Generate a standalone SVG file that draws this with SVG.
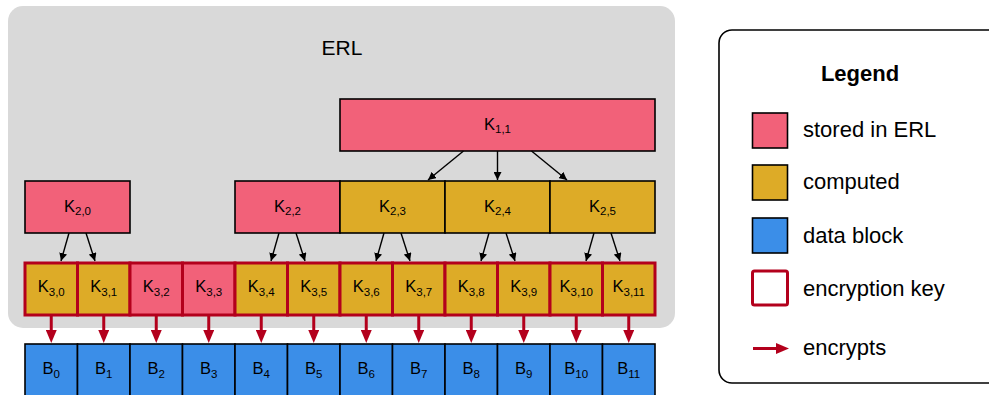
<svg xmlns="http://www.w3.org/2000/svg" width="989" height="395" viewBox="0 0 989 395">
<defs>
<style>
text{font-family:"Liberation Sans",Arial,Helvetica,sans-serif;fill:#000;}
.big{font-size:21px;}
.lbl{font-size:22px;}
.k{font-size:16.5px;text-anchor:middle;}
.sub{font-size:11.5px;}
.stored{fill:#f26179;}
.comp{fill:#ddab27;}
.data{fill:#3b8ee8;}
.box{stroke:#000;stroke-width:1.6;}
.key{stroke:#b3001c;stroke-width:3;}
.blk{stroke:#000;stroke-width:1.4;fill:none;}
.red{stroke:#b3001c;stroke-width:3;fill:none;}
</style>
<marker id="ah" viewBox="0 0 10 10" refX="10" refY="5" markerWidth="8" markerHeight="8" markerUnits="userSpaceOnUse" orient="auto"><path d="M0,0 L10,5 L0,10 z" fill="#000"/></marker>
<marker id="rh" viewBox="0 0 13 11" refX="0" refY="5.5" markerWidth="13" markerHeight="11" markerUnits="userSpaceOnUse" orient="auto"><path d="M0,0 L13,5.5 L0,11 z" fill="#b3001c"/></marker>
</defs>

<g id="erl">
<rect x="8" y="6" width="667" height="322" rx="15" fill="#d9d9d9"/>
<text class="big" x="342" y="55" text-anchor="middle">ERL</text>
</g>

<g id="K1_1"><rect class="stored box" x="340" y="99" width="315" height="52"/><text class="k" x="497.5" y="130">K<tspan class="sub" dy="3">1,1</tspan></text></g>

<g id="K2_0"><rect class="stored box" x="25" y="181" width="105" height="52"/><text class="k" x="77.5" y="212">K<tspan class="sub" dy="3">2,0</tspan></text></g>
<g id="K2_2"><rect class="stored box" x="235" y="181" width="105" height="52"/><text class="k" x="287.5" y="212">K<tspan class="sub" dy="3">2,2</tspan></text></g>
<g id="K2_3"><rect class="comp box" x="340" y="181" width="105" height="52"/><text class="k" x="392.5" y="212">K<tspan class="sub" dy="3">2,3</tspan></text></g>
<g id="K2_4"><rect class="comp box" x="445" y="181" width="105" height="52"/><text class="k" x="497.5" y="212">K<tspan class="sub" dy="3">2,4</tspan></text></g>
<g id="K2_5"><rect class="comp box" x="550" y="181" width="105" height="52"/><text class="k" x="602.5" y="212">K<tspan class="sub" dy="3">2,5</tspan></text></g>

<g id="K3_0"><rect class="comp key" x="25" y="263" width="52.5" height="52"/><text class="k" x="51.25" y="292">K<tspan class="sub" dy="4">3,0</tspan></text></g>
<g id="K3_1"><rect class="comp key" x="77.5" y="263" width="52.5" height="52"/><text class="k" x="103.75" y="292">K<tspan class="sub" dy="4">3,1</tspan></text></g>
<g id="K3_2"><rect class="stored key" x="130" y="263" width="52.5" height="52"/><text class="k" x="156.25" y="292">K<tspan class="sub" dy="4">3,2</tspan></text></g>
<g id="K3_3"><rect class="stored key" x="182.5" y="263" width="52.5" height="52"/><text class="k" x="208.75" y="292">K<tspan class="sub" dy="4">3,3</tspan></text></g>
<g id="K3_4"><rect class="comp key" x="235" y="263" width="52.5" height="52"/><text class="k" x="261.25" y="292">K<tspan class="sub" dy="4">3,4</tspan></text></g>
<g id="K3_5"><rect class="comp key" x="287.5" y="263" width="52.5" height="52"/><text class="k" x="313.75" y="292">K<tspan class="sub" dy="4">3,5</tspan></text></g>
<g id="K3_6"><rect class="comp key" x="340" y="263" width="52.5" height="52"/><text class="k" x="366.25" y="292">K<tspan class="sub" dy="4">3,6</tspan></text></g>
<g id="K3_7"><rect class="comp key" x="392.5" y="263" width="52.5" height="52"/><text class="k" x="418.75" y="292">K<tspan class="sub" dy="4">3,7</tspan></text></g>
<g id="K3_8"><rect class="comp key" x="445" y="263" width="52.5" height="52"/><text class="k" x="471.25" y="292">K<tspan class="sub" dy="4">3,8</tspan></text></g>
<g id="K3_9"><rect class="comp key" x="497.5" y="263" width="52.5" height="52"/><text class="k" x="523.75" y="292">K<tspan class="sub" dy="4">3,9</tspan></text></g>
<g id="K3_10"><rect class="comp key" x="550" y="263" width="52.5" height="52"/><text class="k" x="576.25" y="292">K<tspan class="sub" dy="4">3,10</tspan></text></g>
<g id="K3_11"><rect class="comp key" x="602.5" y="263" width="52.5" height="52"/><text class="k" x="628.75" y="292">K<tspan class="sub" dy="4">3,11</tspan></text></g>

<g id="B0"><rect class="data box" x="25" y="344" width="52.5" height="54"/><text class="k" x="51.25" y="374">B<tspan class="sub" dy="4">0</tspan></text></g>
<g id="B1"><rect class="data box" x="77.5" y="344" width="52.5" height="54"/><text class="k" x="103.75" y="374">B<tspan class="sub" dy="4">1</tspan></text></g>
<g id="B2"><rect class="data box" x="130" y="344" width="52.5" height="54"/><text class="k" x="156.25" y="374">B<tspan class="sub" dy="4">2</tspan></text></g>
<g id="B3"><rect class="data box" x="182.5" y="344" width="52.5" height="54"/><text class="k" x="208.75" y="374">B<tspan class="sub" dy="4">3</tspan></text></g>
<g id="B4"><rect class="data box" x="235" y="344" width="52.5" height="54"/><text class="k" x="261.25" y="374">B<tspan class="sub" dy="4">4</tspan></text></g>
<g id="B5"><rect class="data box" x="287.5" y="344" width="52.5" height="54"/><text class="k" x="313.75" y="374">B<tspan class="sub" dy="4">5</tspan></text></g>
<g id="B6"><rect class="data box" x="340" y="344" width="52.5" height="54"/><text class="k" x="366.25" y="374">B<tspan class="sub" dy="4">6</tspan></text></g>
<g id="B7"><rect class="data box" x="392.5" y="344" width="52.5" height="54"/><text class="k" x="418.75" y="374">B<tspan class="sub" dy="4">7</tspan></text></g>
<g id="B8"><rect class="data box" x="445" y="344" width="52.5" height="54"/><text class="k" x="471.25" y="374">B<tspan class="sub" dy="4">8</tspan></text></g>
<g id="B9"><rect class="data box" x="497.5" y="344" width="52.5" height="54"/><text class="k" x="523.75" y="374">B<tspan class="sub" dy="4">9</tspan></text></g>
<g id="B10"><rect class="data box" x="550" y="344" width="52.5" height="54"/><text class="k" x="576.25" y="374">B<tspan class="sub" dy="4">10</tspan></text></g>
<g id="B11"><rect class="data box" x="602.5" y="344" width="52.5" height="54"/><text class="k" x="628.75" y="374">B<tspan class="sub" dy="4">11</tspan></text></g>

<g id="connectors">
<g class="blk" marker-end="url(#ah)">
<line x1="463.5" y1="151" x2="428" y2="180"/>
<line x1="497.5" y1="151" x2="497.5" y2="180"/>
<line x1="531.5" y1="151" x2="567" y2="180"/>
<line x1="69" y1="233" x2="61" y2="261"/>
<line x1="86" y1="233" x2="95" y2="261"/>
<line x1="279" y1="233" x2="271" y2="261"/>
<line x1="296" y1="233" x2="305" y2="261"/>
<line x1="384" y1="233" x2="376" y2="261"/>
<line x1="401" y1="233" x2="410" y2="261"/>
<line x1="489" y1="233" x2="481" y2="261"/>
<line x1="506" y1="233" x2="515" y2="261"/>
<line x1="594" y1="233" x2="586" y2="261"/>
<line x1="611" y1="233" x2="620" y2="261"/>
</g>
<g class="red" marker-end="url(#rh)">
<line x1="51.25" y1="316" x2="51.25" y2="330"/>
<line x1="103.75" y1="316" x2="103.75" y2="330"/>
<line x1="156.25" y1="316" x2="156.25" y2="330"/>
<line x1="208.75" y1="316" x2="208.75" y2="330"/>
<line x1="261.25" y1="316" x2="261.25" y2="330"/>
<line x1="313.75" y1="316" x2="313.75" y2="330"/>
<line x1="366.25" y1="316" x2="366.25" y2="330"/>
<line x1="418.75" y1="316" x2="418.75" y2="330"/>
<line x1="471.25" y1="316" x2="471.25" y2="330"/>
<line x1="523.75" y1="316" x2="523.75" y2="330"/>
<line x1="576.25" y1="316" x2="576.25" y2="330"/>
<line x1="628.75" y1="316" x2="628.75" y2="330"/>
</g>
</g>

<g id="legend">
<rect x="719" y="30" width="290" height="353" rx="13" fill="#fff" stroke="#000" stroke-width="1.6"/>
<text class="lbl" x="860" y="81" text-anchor="middle" font-weight="bold">Legend</text>
<rect class="stored box" x="752.5" y="113" width="35" height="35"/>
<text class="lbl" x="803" y="137">stored in ERL</text>
<rect class="comp box" x="752.5" y="165" width="35" height="35"/>
<text class="lbl" x="803" y="189">computed</text>
<rect class="data box" x="752.5" y="218" width="35" height="35"/>
<text class="lbl" x="803" y="243">data block</text>
<rect x="752.5" y="271" width="35" height="34" rx="2" fill="#fff" class="key"/>
<text class="lbl" x="803" y="296">encryption key</text>
<line class="red" x1="753" y1="348.5" x2="776" y2="348.5" marker-end="url(#rh)"/>
<text class="lbl" x="803" y="355">encrypts</text>
</g>
</svg>
